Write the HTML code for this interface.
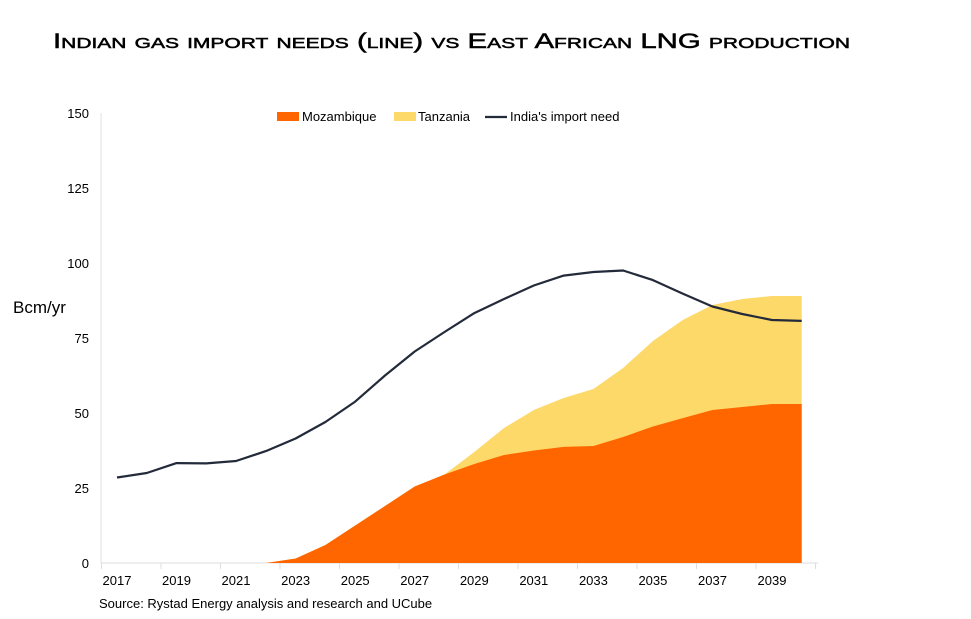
<!DOCTYPE html>
<html><head><meta charset="utf-8"><style>
body{margin:0;background:#fff}
svg{display:block}
text{font-family:"Liberation Sans",sans-serif;fill:#000}
</style></head><body>
<svg width="971" height="619" viewBox="0 0 971 619" xmlns="http://www.w3.org/2000/svg">
<text x="53" y="48" font-size="21" stroke="#000" stroke-width="0.5" style="font-variant:small-caps" textLength="797" lengthAdjust="spacingAndGlyphs">Indian gas import needs (line) vs East African LNG production</text>
<line x1="101" y1="113" x2="101" y2="563" stroke="#e0e0e0"/>
<line x1="101" y1="563" x2="818" y2="563" stroke="#ddd"/>
<g stroke="#ddd">
<line x1="101.5" y1="563" x2="101.5" y2="569"/><line x1="161" y1="563" x2="161" y2="569"/><line x1="220.5" y1="563" x2="220.5" y2="569"/><line x1="280" y1="563" x2="280" y2="569"/><line x1="339.5" y1="563" x2="339.5" y2="569"/><line x1="399" y1="563" x2="399" y2="569"/><line x1="458.5" y1="563" x2="458.5" y2="569"/><line x1="518" y1="563" x2="518" y2="569"/><line x1="577.5" y1="563" x2="577.5" y2="569"/><line x1="637" y1="563" x2="637" y2="569"/><line x1="696.5" y1="563" x2="696.5" y2="569"/><line x1="756" y1="563" x2="756" y2="569"/><line x1="815.5" y1="563" x2="815.5" y2="569"/>
</g>
<g font-size="13" text-anchor="end">
<text x="89" y="118">150</text><text x="89" y="193">125</text><text x="89" y="268">100</text><text x="89" y="343">75</text><text x="89" y="418">50</text><text x="89" y="493">25</text><text x="89" y="568">0</text>
</g>
<text x="13" y="313" font-size="17">Bcm/yr</text>
<g font-size="13" text-anchor="middle">
<text x="117" y="585">2017</text><text x="176.5" y="585">2019</text><text x="236" y="585">2021</text><text x="295.6" y="585">2023</text><text x="355.2" y="585">2025</text><text x="414.7" y="585">2027</text><text x="474.3" y="585">2029</text><text x="533.8" y="585">2031</text><text x="593.4" y="585">2033</text><text x="652.9" y="585">2035</text><text x="712.5" y="585">2037</text><text x="772" y="585">2039</text>
</g>
<text x="99" y="608" font-size="13">Source: Rystad Energy analysis and research and UCube</text>
<polygon fill="#FDD96A" points="265.9,563 295.7,558.5 325.4,545 355.2,525.5 385,506 414.7,486.5 444.5,474.5 474.3,452 504,428 533.8,410 563.6,398 593.4,389 623.1,368 652.9,341 682.7,320 712.4,305 742.2,299 772,296 801.7,296 801.7,563"/>
<polygon fill="#FF6600" points="265.9,563 295.7,558.5 325.4,545 355.2,525.5 385,506 414.7,486.5 444.5,474.5 474.3,464 504,455 533.8,450.5 563.6,446.9 593.4,446 623.1,437 652.9,426.5 682.7,418.1 712.4,410 742.2,407 772,404 801.7,404 801.7,563"/>
<polyline fill="none" stroke="#232a3a" stroke-width="2.2" stroke-linejoin="round" points="117,477.5 146.8,473 176.5,463.1 206.3,463.4 236.1,461 265.9,451.1 295.6,438.5 325.4,422 355.2,401.6 385,375.5 414.7,351.5 444.5,332 474.3,313.1 504,299 533.8,285.5 563.6,275.6 593.4,272 623.1,270.5 652.9,280.1 682.7,293.6 712.4,306.5 742.2,314 772,320 801.7,320.9"/>
<rect x="277" y="112" width="22" height="9" fill="#FF6600"/>
<text x="302" y="121" font-size="13">Mozambique</text>
<rect x="394" y="112" width="22" height="9" fill="#FDD96A"/>
<text x="418" y="121" font-size="13">Tanzania</text>
<line x1="485" y1="117" x2="507" y2="117" stroke="#232a3a" stroke-width="2.2"/>
<text x="510" y="121" font-size="13">India's import need</text>
</svg>
</body></html>
